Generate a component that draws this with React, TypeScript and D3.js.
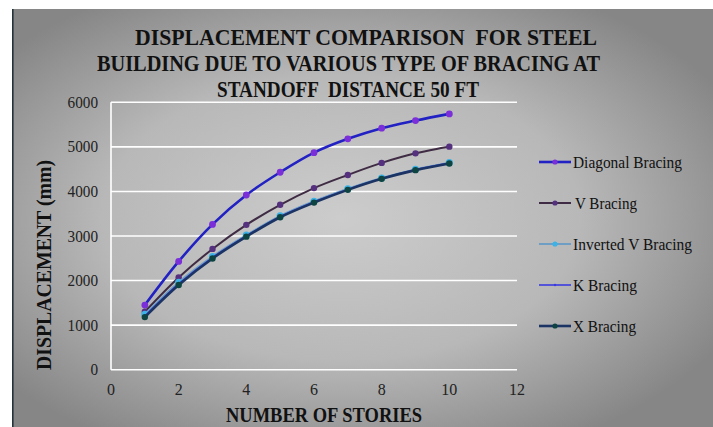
import React from "react";
import * as d3 from "d3";

const stories = [1, 2, 3, 4, 5, 6, 7, 8, 9, 10];
const diagonal = [1450, 2430, 3260, 3920, 4430, 4870, 5180, 5420, 5590, 5740];
const vBracing = [1300, 2070, 2710, 3250, 3700, 4075, 4370, 4640, 4855, 5005];
const invertedV = [1240, 1960, 2540, 3020, 3450, 3780, 4060, 4300, 4495, 4645];
const kBracing = [1200, 1925, 2515, 3000, 3432, 3762, 4045, 4290, 4485, 4635];
const xBracing = [1180, 1900, 2495, 2985, 3420, 3750, 4035, 4282, 4478, 4628];
const seriesNames = ["Diagonal Bracing", "V Bracing", "Inverted V Bracing", "K Bracing", "X Bracing"];
const xTicks = [0, 2, 4, 6, 8, 10, 12];
const yTicks = [0, 1000, 2000, 3000, 4000, 5000, 6000];
const titleLines = [
  "DISPLACEMENT COMPARISON  FOR STEEL",
  "BUILDING DUE TO VARIOUS TYPE OF BRACING AT",
  "STANDOFF  DISTANCE 50 FT",
];

const seriesValues = [diagonal, vBracing, invertedV, kBracing, xBracing];
const styles = [
  { line: "#2222c4", width: 2.6, marker: "#7a2fd8", r: 3.4 },
  { line: "#3f2c44", width: 2, marker: "#55307e", r: 3.2 },
  { line: "#6e9ec4", width: 2, marker: "#3cb2e6", r: 3.6 },
  { line: "#3a3ae0", width: 1.6, marker: "#3a3ae0", r: 1.2 },
  { line: "#1c3464", width: 2.6, marker: "#0d4442", r: 3.2 },
];
const legendText = [
  { x: 573, w: 109 },
  { x: 575, w: 62 },
  { x: 573, w: 119 },
  { x: 573, w: 64 },
  { x: 573, w: 63 },
];
const titleLayout = [
  { x: 135, y: 45, w: 462 },
  { x: 97, y: 71, w: 503 },
  { x: 217, y: 97, w: 262 },
];

export default function App() {
  const x = d3.scaleLinear().domain([0, 12]).range([111, 517]);
  const y = d3.scaleLinear().domain([0, 6000]).range([369.7, 102.3]);
  const line = d3
    .line<number>()
    .x((_, i) => x(stories[i]))
    .y((d) => y(d))
    .curve(d3.curveCatmullRom.alpha(0.5));
  const font = "'Liberation Serif', 'Times New Roman', serif";
  const legendY = [162, 203, 244, 285, 326];

  return (
    <svg
      width={713}
      height={427}
      style={{ position: "absolute", left: 0, top: 0 }}
      fontFamily={font}
    >
      <defs>
        <radialGradient id="bg" cx="0.47" cy="0.5" r="0.62">
          <stop offset="0" stopColor="#cccccc" />
          <stop offset="0.55" stopColor="#b8b8b8" />
          <stop offset="1" stopColor="#868686" />
        </radialGradient>
      </defs>
      <rect x={0} y={0} width={713} height={427} fill="#ffffff" />
      <rect x={12} y={9} width={701} height={418} fill="url(#bg)" />
      <line x1={12.8} x2={12.8} y1={9} y2={427} stroke="#23333b" strokeWidth={1.6} />

      {titleLines.map((t, i) => (
        <text
          key={t}
          x={titleLayout[i].x}
          y={titleLayout[i].y}
          fontSize={23.5}
          fontWeight="bold"
          fill="#111"
          textLength={titleLayout[i].w}
          lengthAdjust="spacingAndGlyphs"
          style={{ whiteSpace: "pre" }}
        >
          {t}
        </text>
      ))}

      {yTicks.map((t) => (
        <g key={t}>
          <line x1={111} x2={517} y1={y(t)} y2={y(t)} stroke="#ffffff" strokeWidth={1.6} />
          <text x={98} y={y(t) + 5.5} textAnchor="end" fontSize={16} fill="#222"
            textLength={String(t).length * 7.6} lengthAdjust="spacingAndGlyphs">
            {t}
          </text>
        </g>
      ))}
      <line x1={x(0)} x2={x(0)} y1={y(6000)} y2={y(0)} stroke="#ffffff" strokeWidth={1.6} />

      {xTicks.map((t) => (
        <text key={t} x={x(t)} y={395} textAnchor="middle" fontSize={16} fill="#222">
          {t}
        </text>
      ))}

      <text
        x={226}
        y={421.5}
        fontSize={20}
        fontWeight="bold"
        fill="#111"
        textLength={196}
        lengthAdjust="spacingAndGlyphs"
      >
        NUMBER OF STORIES
      </text>
      <text
        transform="translate(51,370) rotate(-90)"
        fontSize={20}
        fontWeight="bold"
        fill="#111"
        textLength={210}
        lengthAdjust="spacingAndGlyphs"
      >
        DISPLACEMENT (mm)
      </text>

      {seriesValues.map((vals, si) => (
        <g key={seriesNames[si]}>
          <path d={line(vals) || ""} fill="none" stroke={styles[si].line} strokeWidth={styles[si].width} />
          {vals.map((v, i) => (
            <circle key={i} cx={x(stories[i])} cy={y(v)} r={styles[si].r} fill={styles[si].marker} />
          ))}
        </g>
      ))}

      {seriesNames.map((n, i) => (
        <g key={n}>
          <line
            x1={539}
            x2={571}
            y1={legendY[i]}
            y2={legendY[i]}
            stroke={styles[i].line}
            strokeWidth={styles[i].width}
          />
          <circle cx={555} cy={legendY[i]} r={Math.min(styles[i].r, 2.6)} fill={styles[i].marker} />
          <text
            x={legendText[i].x}
            y={legendY[i] + 6}
            fontSize={17.5}
            fill="#111"
            textLength={legendText[i].w}
            lengthAdjust="spacingAndGlyphs"
          >
            {n}
          </text>
        </g>
      ))}
    </svg>
  );
}
